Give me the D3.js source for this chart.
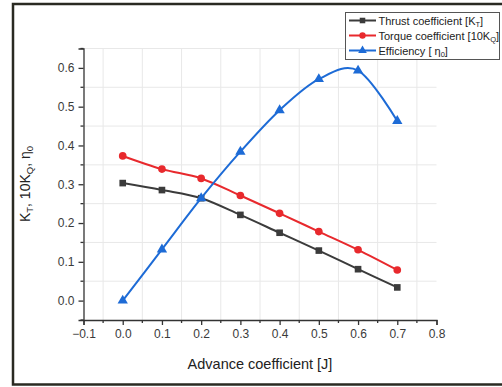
<!DOCTYPE html>
<meta charset="utf-8">
<style>
body { margin: 0; background: #fff; }
svg { font-family: "Liberation Sans", Arial, sans-serif; }
.axis path, .axis line { fill: none; stroke: #333; stroke-width: 1.3px; }
.axis text { font-family: "Liberation Sans", Arial, sans-serif; font-size: 12px; fill: #3a3a3a; }
.grid line { stroke: #e8e8e8; stroke-width: 1px; }
</style>
<body>
<svg id="chart" width="502" height="387"></svg>
<script src="https://cdn.jsdelivr.net/npm/d3@7"></script>
<script>
// advance coefficient J
var advance = [0.0, 0.1, 0.2, 0.3, 0.4, 0.5, 0.6, 0.7];
var thrust = [0.303, 0.285, 0.264, 0.221, 0.175, 0.129, 0.081, 0.034];
var torque = [0.373, 0.339, 0.315, 0.271, 0.225, 0.178, 0.131, 0.079];
var efficiency = [0.0, 0.132, 0.264, 0.384, 0.491, 0.571, 0.593, 0.463];

var xTicks = [-0.1, 0.0, 0.1, 0.2, 0.3, 0.4, 0.5, 0.6, 0.7, 0.8];
var yTicks = [0.0, 0.1, 0.2, 0.3, 0.4, 0.5, 0.6];
var xMinor = [-0.05, 0.05, 0.15, 0.25, 0.35, 0.45, 0.55, 0.65, 0.75];
var yMinor = [-0.05, 0.05, 0.15, 0.25, 0.35, 0.45, 0.55, 0.65];

var svg = d3.select("#chart");
var margin = {left: 83.5, top: 48.5, right: 436.5, bottom: 320};

var x = d3.scaleLinear().domain([-0.1, 0.8]).range([margin.left, margin.right]);
var y = d3.scaleLinear().domain([-0.05, 0.65]).range([margin.bottom, margin.top]);

// outer frame
svg.append("path")
  .attr("d", "M502,4 H13 V384.5 H502")
  .attr("fill", "none")
  .attr("stroke", "#2a2a22")
  .attr("stroke-width", 2.5);

// grid at the minor positions
var grid = svg.append("g").attr("class", "grid");
grid.selectAll(".gx").data(xMinor).enter().append("line")
  .attr("x1", function(d) { return x(d); }).attr("x2", function(d) { return x(d); })
  .attr("y1", y(0.65)).attr("y2", y(-0.05));
grid.selectAll(".gy").data(yMinor.slice(1)).enter().append("line")
  .attr("y1", function(d) { return y(d); }).attr("y2", function(d) { return y(d); })
  .attr("x1", x(-0.1)).attr("x2", x(0.8));

// axes
var xAxis = svg.append("g").attr("class", "axis")
  .attr("transform", "translate(0," + margin.bottom + ")")
  .call(d3.axisBottom(x).tickValues(xTicks).tickSize(5).tickPadding(4)
    .tickFormat(function(d) { return d < 0 ? "\u22120.1" : d3.format(".1f")(d); }));
xAxis.selectAll(".minor").data(xMinor).enter().append("line")
  .attr("x1", function(d) { return x(d); }).attr("x2", function(d) { return x(d); })
  .attr("y1", 0).attr("y2", 3).attr("stroke", "#333").attr("stroke-width", 1.3);

var yAxis = svg.append("g").attr("class", "axis")
  .attr("transform", "translate(" + margin.left + ",0)")
  .call(d3.axisLeft(y).tickValues(yTicks).tickSize(5).tickPadding(4)
    .tickFormat(d3.format(".1f")));
yAxis.selectAll(".minor").data(yMinor).enter().append("line")
  .attr("y1", function(d) { return y(d); }).attr("y2", function(d) { return y(d); })
  .attr("x1", 0).attr("x2", -3).attr("stroke", "#333").attr("stroke-width", 1.3);

// axis titles
svg.append("text")
  .attr("x", 260).attr("y", 369)
  .attr("text-anchor", "middle")
  .attr("font-size", "14.5px").attr("fill", "#222")
  .text("Advance coefficient [J]");

var yt = svg.append("text")
  .attr("transform", "translate(30,184) rotate(-90)")
  .attr("text-anchor", "middle")
  .attr("font-size", "14px").attr("fill", "#222");
yt.append("tspan").text("K");
yt.append("tspan").attr("dy", 3).attr("font-size", "9.5px").text("T");
yt.append("tspan").attr("dy", -3).text(", 10K");
yt.append("tspan").attr("dy", 3).attr("font-size", "9.5px").text("Q");
yt.append("tspan").attr("dy", -3).text(", \u03b7");
yt.append("tspan").attr("dy", 3).attr("font-size", "9.5px").text("0");

// series
var series = [
  {name: "thrust", values: thrust, color: "#3b3b3b", marker: d3.symbolSquare, size: 44},
  {name: "torque", values: torque, color: "#e8292d", marker: d3.symbolCircle, size: 46},
  {name: "efficiency", values: efficiency, color: "#1d6bd6", marker: d3.symbolTriangle, size: 46}
];

// uniform spline, like the plotting program's smoothed lines
var line = d3.line()
  .x(function(d) { return x(d[0]); })
  .y(function(d) { return y(d[1]); })
  .curve(d3.curveCardinal.tension(0));

series.forEach(function(s) {
  var pts = advance.map(function(a, i) { return [a, s.values[i]]; });
  svg.append("path")
    .datum(pts)
    .attr("d", line)
    .attr("fill", "none")
    .attr("stroke", s.color)
    .attr("stroke-width", 2);
  svg.selectAll(".m-" + s.name).data(pts).enter().append("path")
    .attr("d", d3.symbol().type(s.marker).size(s.size))
    .attr("transform", function(d) { return "translate(" + x(d[0]) + "," + y(d[1]) + ")"; })
    .attr("fill", s.color);
});

// legend
var legend = svg.append("g");
legend.append("rect")
  .attr("x", 345.5).attr("y", 12.5).attr("width", 154).attr("height", 47)
  .attr("fill", "#fff").attr("stroke", "#555").attr("stroke-width", 1);

var labels = [
  [["Thrust coefficient [K", 0], ["T", 1], ["]", 0]],
  [["Torque coefficient [10K", 0], ["Q", 1], ["]", 0]],
  [["Efficiency [ \u03b7", 0], ["0", 1], ["]", 0]]
];

series.forEach(function(s, i) {
  var ly = 20.5 + i * 15;
  legend.append("line")
    .attr("x1", 349).attr("x2", 376).attr("y1", ly).attr("y2", ly)
    .attr("stroke", s.color).attr("stroke-width", 2);
  legend.append("path")
    .attr("d", d3.symbol().type(s.marker).size(s.size * 0.7))
    .attr("transform", "translate(362.5," + ly + ")")
    .attr("fill", s.color);
  var t = legend.append("text")
    .attr("x", 378.5).attr("y", ly + 4)
    .attr("font-size", "11px").attr("fill", "#222");
  var shift = 0;
  labels[i].forEach(function(p) {
    var dy = p[1] ? 2.5 : (shift ? -2.5 : 0);
    shift = p[1];
    t.append("tspan").attr("dy", dy).attr("font-size", p[1] ? "7.5px" : "11px").text(p[0]);
  });
});
</script>
</body>
